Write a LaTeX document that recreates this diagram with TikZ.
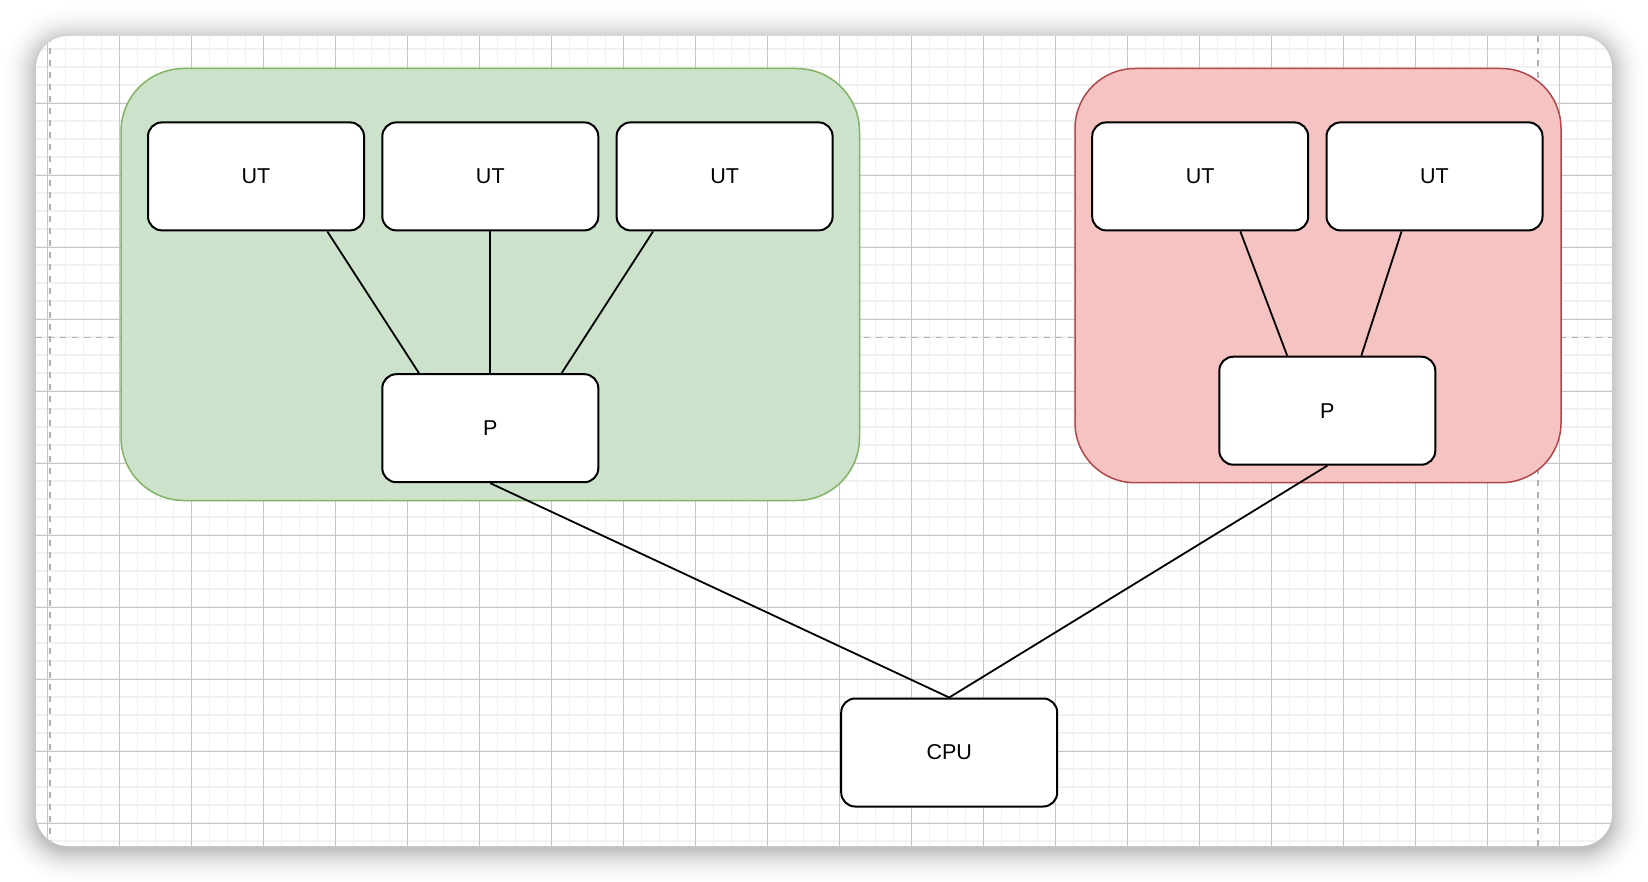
\documentclass[tikz,border=0pt]{standalone}
\usepackage{fontspec}
\setmainfont{Liberation Sans}
\usetikzlibrary{calc}

\definecolor{gridminor}{HTML}{F1F1F1}
\definecolor{gridmajor}{HTML}{C6C6C6}
\definecolor{pagebreak}{HTML}{B0B0B0}
\definecolor{grpgreenfill}{HTML}{CCE2CA}
\definecolor{grpgreenline}{HTML}{82B366}
\definecolor{grpredfill}{HTML}{F5C3C2}
\definecolor{grpredline}{HTML}{B0474A}

\tikzset{
  unitbox/.style={draw=black, fill=white, line width=1pt, rounded corners=7pt,
    minimum width=108pt, minimum height=54pt, inner sep=0pt,
    font=\fontsize{10.75}{13}\selectfont},
  greengroup/.style={draw=grpgreenline, fill=grpgreenfill, line width=0.75pt,
    rounded corners=31.5pt, inner sep=0pt},
  redgroup/.style={draw=grpredline, fill=grpredfill, line width=0.75pt,
    rounded corners=30pt, inner sep=0pt},
  link/.style={draw=black, line width=0.9pt},
  minorline/.style={draw=gridminor, line width=0.9pt},
  majorline/.style={draw=gridmajor, line width=0.55pt},
  pageline/.style={draw=pagebreak, line width=0.75pt, dash pattern=on 3pt off 3pt},
}

\begin{document}
\begin{tikzpicture}[x=0.5pt, y=-0.5pt]
\useasboundingbox (0,0) rectangle (1648,882);

% soft drop shadow under the canvas, painted from the outside in
\foreach \i in {38,37,...,0} {
  \pgfmathsetmacro\shade{24*(1-\i/38)^2.3}
  \pgfmathsetlengthmacro\rr{16pt+0.5pt*\i}
  \fill[black!\shade, rounded corners=\rr] (36-\i,40-\i) rectangle (1612+\i,850+\i);
}

% canvas
\fill[white, rounded corners=16pt] (36,36) rectangle (1612,846);

% grid and page breaks
\begin{scope}
  \clip[rounded corners=16pt] (36,36) rectangle (1612,846);
  \foreach \x in {29.5,47.5,...,1625} \path[minorline] (\x,30) -- (\x,850);
  \foreach \y in {31.3,49.3,...,855} \path[minorline] (30,\y) -- (1620,\y);
  \foreach \x in {47.5,119.5,...,1625} \path[majorline] (\x,30) -- (\x,850);
  \foreach \y in {31.3,103.3,...,855} \path[majorline] (30,\y) -- (1620,\y);
  \path[pageline] (50,36) -- (50,846);
  \path[pageline] (1538,36) -- (1538,846);
  \path[pageline] (36,337.7) -- (1612,337.7);
\end{scope}

% groups
\node[greengroup, minimum width=369.25pt, minimum height=216pt] (ggrp) at (490.25,284.5) {};
\node[redgroup, minimum width=243pt, minimum height=207.1pt] (rgrp) at (1318,275.6) {};

% units
\node[unitbox] (ut1) at (256,176.4) {UT};
\node[unitbox] (ut2) at (490.3,176.4) {UT};
\node[unitbox] (ut3) at (724.6,176.4) {UT};
\node[unitbox] (pg) at (490.3,428.2) {P};

\node[unitbox] (ut4) at (1200.2,176.4) {UT};
\node[unitbox] (ut5) at (1434.5,176.4) {UT};
\node[unitbox] (pr) at (1327.3,410.7) {P};

\node[unitbox] (cpu) at (949.2,752.5) {CPU};

% connectors
\draw[link] ($(ut1.south west)!0.827!(ut1.south east)$) -- ($(pg.north west)!0.173!(pg.north east)$);
\draw[link] (ut2.south) -- (pg.north);
\draw[link] ($(ut3.south west)!0.172!(ut3.south east)$) -- ($(pg.north west)!0.827!(pg.north east)$);

\draw[link] ($(ut4.south west)!0.684!(ut4.south east)$) -- ($(pr.north west)!0.316!(pr.north east)$);
\draw[link] ($(ut5.south west)!0.349!(ut5.south east)$) -- ($(pr.north west)!0.656!(pr.north east)$);

\draw[link] (pg.south) -- (cpu.north);
\draw[link] (pr.south) -- (cpu.north);
\end{tikzpicture}
\end{document}
